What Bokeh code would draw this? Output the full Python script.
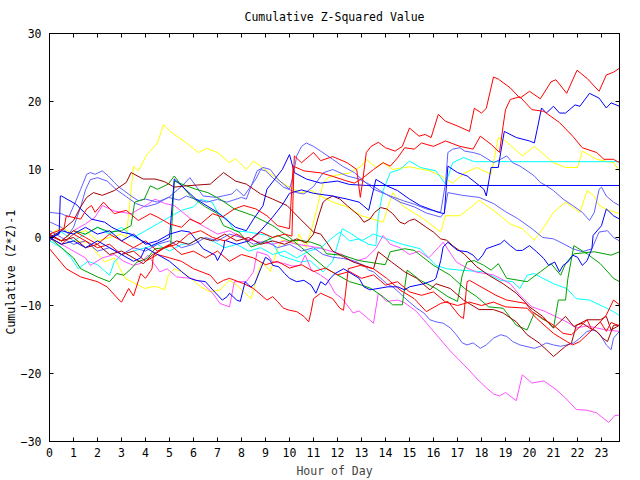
from bokeh.plotting import figure
from bokeh.models import Range1d, LinearAxis, FixedTicker, Title, CustomJSTickFormatter
from bokeh.embed import file_html
from bokeh.resources import INLINE

title_text = "Cumulative Z-Squared Value"
x_label = "Hour of Day"
y_label = "Cumulative (Z*Z)-1"
x_ticks = list(range(24))
y_ticks = [-30, -20, -10, 0, 10, 20, 30]

RED = "#ff0000"; DRED = "#a00000"; GREEN = "#00a000"; BLUE = "#0000ff"
SLATE = "#6060ff"; CYAN = "#00ffff"; MAG = "#ff50ff"; YEL = "#ffff00"

red_1 = [(0,-1.65),(0.7,-4.6),(1.3,-5.8),(2.0,-6.5),(2.4,-7.25),(2.9,-9.2),(3.0,-9.5),(3.3,-7.5),(3.5,-8.6),(3.8,-5.3),(4.0,-6.0),(4.27,-4.6),(4.33,-2.6),(4.8,-1.5),(5.3,-1.0),(5.8,0.5),(6.3,1.0),(6.8,0.0),(7.3,-0.5),(7.8,0.5),(8.3,-0.5),(8.8,0.8),(9.3,0.0),(9.8,0.5),(10.1,0.2),(10.2,12.0),(10.5,11.0),(11.0,12.5),(11.3,11.3),(11.8,11.9),(12.4,11.0),(12.8,10.0),(12.95,5.9),(13.06,8.6),(13.2,12.5),(13.4,13.4),(13.7,14.0),(14.0,13.2),(14.4,12.7),(14.7,13.4),(15.0,16.1),(15.4,14.9),(15.65,15.15),(15.9,14.7),(16.2,18.1),(16.5,17.1),(17.0,16.4),(17.5,15.6),(17.7,19.0),(18.0,18.3),(18.2,19.0),(18.5,23.6),(18.7,23.3),(19.2,22.0),(19.6,20.5),(20.0,21.5),(20.45,20.4),(20.9,22.9),(21.1,23.2),(21.55,21.2),(21.98,24.6),(22.4,23.4),(22.9,21.5),(23.2,23.9),(23.5,24.3),(23.75,24.9)]
red_2 = [(0,0.5),(0.6,1.3),(0.7,3.2),(1.3,2.7),(1.55,4.2),(1.75,4.7),(1.9,3.7),(2.25,5.2),(2.7,3.5),(3.2,4.0),(3.7,2.5),(4.2,3.5),(4.5,3.0),(5.0,2.0),(5.5,1.5),(5.85,2.7),(6.3,2.0),(6.8,3.5),(7.2,3.0),(7.7,4.2),(8.1,4.7),(8.6,4.2),(9.06,3.2),(9.5,1.75),(10.0,1.3),(10.15,10.5),(10.6,9.8),(11.3,9.5),(11.8,9.0),(12.3,8.4),(12.7,8.0),(13.0,8.6),(13.5,10.0),(13.9,11.0),(14.2,10.5),(14.5,11.7),(14.8,13.2),(15.2,13.0),(15.5,13.9),(16.0,13.4),(16.5,14.2),(17.1,13.4),(17.65,13.0),(17.95,14.9),(18.4,13.7),(18.75,12.5),(18.9,16.4),(19.0,18.8),(19.2,20.3),(19.6,20.7),(20.1,18.8),(20.6,18.55),(21.25,16.9),(21.8,14.9),(22.2,13.2),(22.8,12.5),(23.1,11.5),(23.5,11.5),(23.75,11.0)]
red_3 = [(0,0.0),(0.5,-1.0),(1.0,0.5),(1.5,-0.5),(2.0,-1.5),(2.5,-1.0),(3.0,-2.5),(3.5,-2.0),(4.0,-3.5),(4.5,-2.5),(5.0,-3.0),(5.5,-3.5),(6.0,-4.6),(6.7,-5.55),(7.0,-6.8),(7.25,-6.3),(7.5,-6.0),(8.1,-6.8),(8.5,-7.5),(9.06,-9.2),(9.3,-8.7),(9.5,-9.4),(9.75,-10.4),(10.0,-10.7),(10.3,-10.9),(10.6,-11.6),(10.8,-12.4),(10.9,-10.9),(11.0,-9.0),(11.3,-8.2),(11.8,-9.0),(12.1,-10.4),(12.25,-10.7),(12.45,-4.6),(12.95,-4.1),(13.5,-4.6),(14.05,-6.0),(14.6,-7.7),(15.2,-9.0),(15.7,-10.9),(16.3,-9.7),(16.6,-9.4),(17.1,-11.6),(17.25,-11.9),(17.4,-6.5),(17.5,-6.3),(18.1,-7.5),(18.6,-8.5),(19.05,-9.2),(19.85,-9.7),(20.1,-10.9),(20.55,-11.9),(21.0,-12.9),(21.4,-14.1),(21.75,-14.3),(22.05,-13.3),(22.4,-12.1),(22.6,-13.6),(22.95,-12.4),(23.2,-11.4),(23.5,-9.2),(23.75,-9.9)]
red_4 = [(0,0.3),(0.5,-0.5),(1.0,1.0),(1.5,0.0),(2.0,-1.0),(2.5,0.5),(3.0,-0.5),(3.5,-1.5),(4.0,-0.5),(4.5,-2.0),(5.0,-1.0),(5.5,-2.5),(6.0,-2.0),(6.5,-3.0),(7.0,-2.0),(7.5,-3.5),(8.0,-2.5),(8.5,-3.0),(9.0,-4.0),(9.5,-3.5),(10.0,-4.5),(10.5,-4.0),(11.0,-5.0),(11.5,-4.5),(12.0,-5.5),(12.5,-5.0),(13.0,-6.0),(13.5,-5.5),(14.0,-7.0),(14.5,-6.5),(15.0,-8.0),(15.5,-8.5),(16.0,-8.0),(16.5,-9.5),(17.0,-10.0),(17.5,-9.5),(18.0,-10.0),(18.5,-9.5),(19.0,-10.2),(19.9,-10.4),(20.3,-11.9),(21.0,-14.1),(21.55,-15.3),(21.8,-15.8),(22.1,-15.3),(22.4,-14.3),(22.95,-12.4),(23.2,-13.8),(23.4,-12.5),(23.75,-13.0)]
dred_1 = [(0,0.0),(0.5,1.0),(1.0,2.5),(1.3,4.5),(1.55,5.9),(1.83,6.6),(2.2,6.2),(2.7,6.9),(3.2,8.1),(3.4,9.55),(3.9,8.6),(4.4,8.6),(4.8,8.2),(5.2,7.4),(5.7,7.6),(6.7,7.85),(7.25,9.55),(7.75,8.3),(8.2,7.85),(8.8,6.4),(9.3,5.65),(9.9,4.7),(10.45,2.7),(11.0,0.8),(11.3,0.5),(11.55,-0.7),(11.8,-2.0),(12.65,-3.6),(13.5,-4.6),(13.7,-2.1),(14.25,-3.6),(14.8,-5.05),(15.3,-6.0),(15.85,-7.7),(16.1,-6.8),(16.7,-7.5),(17.25,-9.2),(17.9,-10.6),(18.5,-10.6),(18.9,-11.1),(19.45,-12.4),(19.9,-14.3),(20.4,-15.5),(21.0,-17.5),(21.5,-16.0),(21.75,-15.5),(21.95,-12.9),(22.2,-12.6),(22.5,-13.3),(22.8,-13.8),(23.05,-14.8),(23.25,-15.3),(23.5,-12.9),(23.75,-12.9)]
dred_2 = [(0,0.5),(0.5,-0.5),(1.0,0.0),(1.5,-1.5),(2.0,-1.0),(2.5,-2.5),(3.0,-2.0),(3.5,-3.0),(3.9,-3.85),(4.3,-2.5),(4.8,-1.5),(5.3,-0.5),(5.8,-1.0),(6.3,0.0),(6.8,-0.5),(7.3,0.5),(7.8,-0.5),(8.3,0.0),(8.8,-1.0),(9.3,-0.5),(9.8,-1.0),(10.3,-0.2),(10.7,-0.8),(11.0,0.5),(11.2,3.0),(11.4,5.2),(11.55,5.65),(11.8,6.1),(12.1,5.65),(12.4,4.7),(12.65,3.95),(12.9,3.2),(13.1,2.25),(13.35,2.7),(13.55,3.7),(13.8,4.4),(14.05,4.2),(14.3,3.5),(14.6,2.25),(14.8,2.0),(15.0,2.5),(15.2,2.7),(15.4,2.25),(15.7,1.5),(16.0,0.8),(16.3,-0.2),(16.55,-0.4),(16.8,-1.2),(17.3,-2.5),(17.8,-4.3),(18.3,-5.55),(18.9,-6.8),(19.45,-8.2),(20.0,-10.2),(20.55,-11.6),(21.0,-13.3),(21.5,-11.6),(21.85,-13.1),(22.4,-12.1),(22.95,-12.1),(23.2,-11.6),(23.4,-13.6),(23.75,-12.9)]
blue_1 = [(0,-0.5),(0.5,1.0),(1.0,0.5),(1.5,1.5),(2.0,0.5),(2.5,1.0),(3.0,-0.5),(3.5,0.5),(4.0,-1.0),(4.5,-0.5),(5.0,0.5),(5.5,1.0),(5.85,0.8),(6.4,-1.65),(6.9,-2.6),(7.0,-3.4),(7.25,-1.65),(7.3,-0.4),(7.8,-1.0),(8.3,-0.5),(8.8,1.0),(9.3,3.0),(9.7,4.8),(10.0,6.5),(10.5,7.0),(11.0,6.5),(11.8,6.1),(12.4,5.65),(12.9,5.2),(13.3,4.0),(13.6,8.55),(14.05,7.6),(14.5,6.9),(15.0,5.65),(15.45,4.7),(16.2,3.7),(16.45,3.5),(16.6,10.5),(17.0,9.55),(17.4,9.05),(18.1,7.1),(18.2,6.1),(18.4,10.3),(18.7,10.3),(18.8,12.5),(18.95,15.6),(19.45,14.7),(20.0,14.2),(20.2,13.9),(20.35,16.4),(20.5,19.05),(20.7,18.3),(21.0,19.3),(21.25,18.3),(21.5,18.3),(21.9,19.5),(22.1,19.3),(22.5,21.2),(22.9,20.5),(23.2,19.05),(23.4,19.8),(23.75,19.3)]
blue_2 = [(0,0.0),(0.4,0.5),(0.45,6.1),(0.5,6.1),(1.1,4.9),(1.3,4.2),(1.75,2.7),(2.3,2.25),(2.6,1.5),(3.0,0.8),(3.4,0.5),(3.7,-0.2),(4.25,-1.2),(4.7,-0.5),(5.0,0.0),(5.2,8.6),(6.1,5.65),(7.0,3.7),(7.75,1.5),(8.2,1.0),(8.5,2.7),(8.9,4.7),(9.06,7.1),(9.7,10.0),(10.0,12.2),(10.2,9.55),(10.7,8.6),(11.3,8.0),(12.0,8.3),(12.5,7.8),(13.2,7.65),(23.75,7.65)]
blue_3 = [(0,0.0),(0.5,-1.0),(1.0,-0.5),(1.5,-1.5),(2.0,-0.5),(2.5,-1.5),(3.0,-2.5),(3.5,-3.5),(3.8,-3.0),(4.0,-1.5),(4.5,-2.5),(5.0,-3.5),(5.5,-5.0),(5.85,-6.0),(6.1,-6.3),(6.5,-6.5),(6.8,-7.7),(7.2,-9.2),(7.4,-8.7),(7.5,-8.2),(7.8,-9.2),(7.95,-9.4),(8.15,-6.5),(8.3,-7.0),(8.4,-7.25),(8.55,-6.8),(8.8,-4.6),(9.0,-2.9),(9.2,-3.4),(9.3,-4.1),(9.55,-4.3),(9.8,-5.3),(10.0,-6.0),(10.3,-6.5),(10.6,-6.3),(10.9,-7.0),(11.1,-8.2),(11.3,-6.5),(11.5,-7.0),(11.7,-6.0),(11.9,-5.3),(12.25,-4.6),(12.9,-6.0),(13.1,-7.25),(13.35,-7.7),(14.1,-7.25),(14.5,-7.25),(14.8,-7.7),(15.0,-7.25),(15.6,-6.8),(16.0,-6.3),(16.1,-6.0),(16.3,-3.4),(16.4,-1.4),(16.6,-0.7),(17.0,-1.9),(17.4,-2.1),(17.65,-2.6),(17.85,-3.4),(18.05,-2.6),(18.2,-1.65),(18.8,-0.9),(18.95,-0.4),(19.2,-1.2),(19.45,-1.9),(19.7,-1.9),(20.0,-1.2),(20.3,-2.1),(20.6,-3.1),(20.8,-4.1),(21.05,-3.6),(21.25,-5.05),(21.4,-4.1),(21.6,-3.6),(21.8,-2.6),(22.0,-2.9),(22.2,-4.1),(22.4,-3.4),(22.6,-1.65),(22.65,0.3),(23.0,1.75),(23.2,4.2),(23.5,3.2),(23.75,2.7)]
slate_1 = [(0,3.7),(0.5,3.5),(0.8,3.0),(1.1,5.4),(1.3,7.1),(1.55,9.3),(1.7,9.55),(1.9,9.3),(2.2,9.8),(2.45,9.05),(2.7,8.1),(2.9,7.4),(3.1,6.9),(3.4,6.1),(3.7,5.4),(4.0,5.65),(4.5,5.2),(4.95,5.9),(5.4,5.5),(5.7,6.1),(6.1,5.6),(6.55,5.2),(7.0,5.6),(7.4,5.2),(8.0,5.9),(8.2,5.65),(8.65,9.8),(8.9,10.3),(9.2,10.0),(9.5,8.6),(9.75,7.85),(10.0,7.1),(10.15,9.05),(10.3,12.0),(10.5,13.4),(10.7,13.9),(11.0,13.4),(11.3,12.7),(11.8,11.5),(12.2,10.5),(12.7,9.55),(13.1,8.3),(13.5,7.1),(14.2,6.1),(14.75,5.4),(15.2,4.9),(15.7,4.2),(16.3,3.7),(16.5,8.0),(16.6,12.5),(16.8,13.0),(17.1,13.2),(17.3,12.7),(17.65,12.5),(17.95,12.2),(18.5,11.0),(18.8,11.5),(19.05,12.0),(19.3,11.0),(19.6,10.5),(19.9,9.8),(20.2,9.05),(20.45,8.1),(20.7,7.6),(21.0,6.9),(21.4,5.65),(21.8,4.7),(22.2,3.7),(22.5,2.5),(22.7,3.7),(22.9,7.1),(23.0,7.4),(23.2,6.1),(23.5,5.2),(23.75,4.7)]
slate_2 = [(0,2.3),(0.5,1.5),(0.8,0.5),(1.0,1.5),(1.3,4.5),(1.5,7.0),(1.7,8.5),(2.0,8.8),(2.4,8.3),(2.8,7.0),(3.2,6.0),(3.6,5.0),(4.0,4.5),(4.5,5.0),(5.0,6.0),(5.5,7.5),(5.85,8.8),(6.4,6.1),(6.95,5.9),(7.6,6.4),(7.8,7.1),(8.1,6.1),(8.6,8.6),(8.8,10.0),(9.0,9.8),(9.3,8.8),(9.75,7.4),(10.3,6.6),(10.6,6.4),(11.0,7.5),(11.4,9.5),(11.8,10.0),(12.4,9.05),(12.9,8.6),(13.5,7.5),(14.1,6.2),(14.6,5.2),(15.2,4.5),(15.7,3.6),(16.3,3.0),(16.45,3.7),(16.6,6.6),(17.2,6.2),(17.9,5.9),(18.5,5.0),(19.0,3.8),(19.5,2.8),(20.1,1.3),(20.55,0.0),(21.0,-0.2),(21.4,-0.9),(21.8,-1.65),(22.2,-2.1),(22.6,-1.65),(22.9,0.8),(23.25,1.0),(23.5,0.0),(23.75,-0.5)]
slate_3 = [(0,1.0),(0.5,0.0),(1.0,-1.0),(1.5,-0.5),(2.0,-2.0),(2.5,-1.5),(3.0,-2.5),(3.5,-1.5),(4.0,-2.0),(4.5,-1.0),(5.0,-0.5),(5.5,-1.5),(6.0,-1.0),(6.5,0.0),(7.0,-0.5),(7.5,0.5),(8.0,0.0),(8.5,-1.0),(9.0,-0.5),(9.5,-1.5),(10.0,-1.0),(10.5,-2.0),(11.0,-1.5),(11.4,-2.5),(11.8,-2.9),(12.25,-3.1),(12.65,-3.4),(13.1,-4.1),(13.3,-4.8),(13.5,-5.05),(13.8,-6.0),(14.05,-6.8),(14.3,-7.25),(14.6,-8.2),(14.9,-9.2),(15.3,-10.4),(15.6,-11.1),(15.85,-12.1),(16.1,-12.4),(16.4,-12.6),(16.7,-13.3),(16.95,-14.3),(17.2,-15.5),(17.4,-15.8),(17.65,-15.5),(17.95,-16.3),(18.2,-15.8),(18.5,-14.8),(18.8,-14.3),(19.05,-14.55),(19.3,-15.3),(19.6,-15.8),(20.2,-16.3),(20.45,-16.0),(20.7,-15.5),(21.0,-15.8),(21.3,-16.0),(21.55,-15.8),(21.85,-15.5),(22.1,-14.8),(22.4,-13.8),(22.7,-13.6),(22.95,-14.3),(23.2,-15.8),(23.4,-16.5),(23.5,-14.8),(23.75,-13.8)]
cyan_1 = [(0,-0.5),(0.5,-1.5),(0.9,-3.0),(1.2,-4.6),(1.6,-3.5),(2.0,-4.0),(2.5,-5.55),(2.7,-3.6),(3.0,-2.5),(3.5,-2.0),(4.0,-1.5),(4.5,-1.0),(5.0,-2.0),(5.5,-1.0),(5.85,-0.9),(6.3,0.0),(6.8,-0.5),(7.3,-1.5),(7.8,-1.0),(8.3,-2.0),(8.8,-1.5),(9.3,-2.5),(9.8,-2.0),(10.3,-3.0),(10.8,-2.0),(11.3,-1.5),(11.8,0.0),(12.1,0.8),(12.5,-0.5),(12.9,-0.2),(13.3,-1.0),(13.6,-1.2),(13.7,3.2),(13.9,6.9),(14.2,9.55),(14.6,10.0),(15.0,11.25),(15.45,10.3),(16.1,9.8),(16.5,7.85),(16.8,11.0),(17.25,11.75),(17.7,11.15),(23.75,11.15)]
cyan_2 = [(0,0.0),(0.5,0.8),(1.0,-0.5),(1.5,0.5),(2.0,1.5),(2.5,0.5),(3.0,1.5),(3.5,0.0),(4.0,1.0),(4.5,2.0),(5.0,3.0),(5.5,4.0),(6.0,4.5),(6.3,5.6),(6.77,5.2),(7.0,3.7),(7.4,2.7),(7.7,1.0),(8.3,0.8),(9.1,0.3),(9.6,-2.6),(10.0,-3.1),(10.45,-3.6),(10.85,-3.4),(11.4,-5.05),(11.8,-3.5),(12.2,1.3),(12.6,0.5),(13.0,-0.5),(13.5,0.5),(14.05,-0.2),(14.7,-1.0),(15.45,-1.65),(16.1,-4.1),(16.55,-4.6),(17.1,-4.8),(18.1,-5.05),(18.8,-6.3),(19.3,-6.5),(19.6,-7.5),(19.9,-5.55),(20.2,-5.3),(20.45,-5.8),(21.0,-6.8),(21.55,-7.5),(21.95,-9.0),(22.5,-9.2),(23.1,-10.2),(23.5,-10.9),(23.75,-11.5)]
green_1 = [(0,0.3),(0.5,-0.5),(1.0,1.0),(1.5,0.5),(2.0,1.5),(2.5,0.8),(3.0,1.0),(3.4,1.75),(3.55,5.2),(3.95,5.65),(4.2,7.6),(4.5,7.1),(4.95,7.85),(5.2,9.05),(5.4,8.1),(5.9,6.0),(6.5,4.5),(7.0,3.5),(7.25,1.75),(7.9,0.8),(8.4,-1.4),(8.8,-0.9),(9.06,-0.4),(9.5,0.3),(10.0,-0.5),(10.45,-0.4),(10.9,-0.7),(11.3,-1.2),(11.55,-2.4),(12.2,-2.6),(12.9,-3.4),(13.99,-4.0),(14.2,-2.1),(14.8,-1.65),(15.2,-1.9),(16.0,-4.1),(16.7,-5.55),(17.3,-7.5),(17.8,-8.7),(18.3,-10.2),(18.9,-10.4),(19.45,-12.9),(19.9,-13.6),(20.2,-11.1),(20.5,-11.9),(20.75,-12.4),(21.0,-13.3),(21.2,-9.2),(21.5,-9.2),(21.6,-6.0),(21.85,-1.2),(22.4,-2.4),(22.95,-3.85),(23.5,-6.0),(23.75,-6.5)]
green_2 = [(0,0.0),(0.5,-1.5),(1.0,-3.0),(1.3,-4.6),(2.0,-5.8),(2.5,-6.5),(2.8,-5.3),(3.1,-5.55),(3.4,-4.6),(3.65,-3.6),(4.06,-3.1),(4.4,-1.65),(4.8,-1.5),(5.05,-1.2),(5.2,8.3),(5.7,7.6),(6.1,7.1),(6.6,6.6),(7.1,5.65),(7.7,4.2),(8.5,3.2),(9.3,1.75),(10.0,0.0),(10.5,-1.5),(11.0,-3.0),(11.5,-4.5),(12.0,-5.5),(12.5,-6.5),(13.0,-7.0),(13.4,-7.5),(13.9,-8.7),(14.3,-9.9),(14.7,-9.9),(14.9,-4.8),(15.45,-6.3),(16.1,-7.5),(16.6,-8.7),(17.0,-9.4),(17.2,-5.5),(17.4,-3.6),(17.7,-3.4),(18.1,-4.1),(18.4,-4.8),(18.7,-3.85),(19.05,-6.0),(19.9,-6.5),(20.45,-5.05),(20.9,-3.85),(21.3,-5.55),(21.5,-3.85),(21.85,-2.4),(22.7,-2.1),(23.4,-2.6),(23.75,-2.1)]
mag_1 = [(0,0.0),(0.5,-1.0),(1.0,-2.0),(1.5,-3.0),(1.7,-4.1),(2.2,-3.0),(2.7,-2.5),(3.1,-3.5),(3.5,-4.1),(3.8,-3.8),(4.1,-2.6),(4.6,-5.05),(4.9,-4.6),(5.3,-5.8),(5.9,-6.0),(6.3,-6.5),(6.8,-8.2),(7.1,-9.7),(7.5,-10.2),(7.7,-6.5),(8.2,-6.5),(8.5,-5.05),(8.65,-2.1),(9.1,-2.6),(9.3,-3.6),(9.75,-3.8),(10.1,-4.2),(10.45,-4.1),(10.65,-2.6),(10.9,-4.7),(11.3,-5.55),(11.6,-6.3),(11.9,-8.2),(12.2,-9.0),(12.65,-11.1),(12.9,-10.8),(13.5,-12.6),(13.7,-8.2),(14.05,-9.4),(14.5,-9.2),(14.8,-9.6),(15.3,-10.9),(16.0,-13.8),(16.7,-16.7),(17.4,-19.2),(17.9,-21.1),(18.2,-22.1),(18.5,-23.0),(18.75,-23.3),(19.0,-22.8),(19.45,-24.0),(19.7,-20.2),(20.1,-21.4),(20.6,-21.1),(21.1,-22.35),(21.5,-23.6),(21.95,-25.3),(22.4,-25.4),(22.8,-25.8),(23.3,-27.2),(23.55,-26.2),(23.75,-26.1)]
mag_2 = [(0,0.5),(0.5,-0.5),(1.0,1.0),(1.5,2.0),(1.9,3.0),(2.2,4.7),(2.7,3.9),(3.4,3.5),(4.1,4.9),(4.4,5.65),(4.8,5.0),(5.2,4.7),(5.9,2.7),(6.5,1.5),(7.0,0.5),(7.5,1.0),(8.0,0.0),(8.5,-0.5),(8.8,-0.7),(9.3,-1.0),(9.8,-0.5),(10.3,-1.0),(10.7,-1.2),(11.2,-1.5),(11.8,-2.1),(12.2,-2.5),(12.65,-3.6),(13.2,-3.0),(13.6,-1.6),(13.9,0.3),(14.2,-1.0),(14.6,-1.5),(15.0,-2.5),(15.4,-2.0),(15.8,-3.0),(16.2,-1.5),(16.4,-0.7),(16.95,-3.6),(17.4,-4.5),(17.8,-5.1),(18.5,-5.5),(19.2,-6.8),(19.6,-8.5),(20.1,-10.2),(20.6,-10.8),(21.25,-11.9),(21.6,-12.5),(21.95,-13.3),(22.4,-13.0),(22.8,-13.3),(23.2,-13.6),(23.75,-13.8)]
yel_1 = [(0,0.5),(0.5,1.5),(1.0,0.5),(1.5,1.0),(2.0,-0.5),(2.5,0.0),(3.0,0.5),(3.2,0.0),(3.5,10.5),(3.7,9.8),(4.06,12.2),(4.5,13.9),(4.75,16.6),(5.03,15.6),(5.7,13.9),(6.2,12.5),(6.55,13.1),(7.0,12.5),(7.5,11.0),(7.75,11.6),(8.2,10.0),(8.5,11.25),(9.06,9.8),(9.6,8.3),(10.0,7.4),(10.45,6.6),(10.9,6.9),(11.3,6.1),(11.8,5.2),(12.4,4.5),(13.0,3.2),(13.9,2.25),(14.3,6.6),(14.7,4.7),(15.6,2.7),(16.3,0.8),(16.5,3.2),(17.1,3.2),(17.65,4.7),(17.9,5.5),(18.6,3.7),(19.2,2.0),(19.7,1.3),(20.2,-0.4),(20.5,1.0),(21.0,3.7),(21.5,5.2),(22.1,3.7),(22.4,6.9),(22.7,6.1),(22.9,4.7),(23.3,4.0),(23.75,3.5)]
yel_2 = [(0,0.0),(0.5,-1.0),(1.0,-0.5),(1.6,-0.7),(2.3,-3.6),(2.7,-3.0),(3.15,-6.0),(3.7,-7.0),(3.97,-7.5),(4.25,-7.25),(4.5,-7.25),(4.8,-7.7),(4.95,-5.55),(5.2,-4.6),(5.5,-5.05),(5.9,-6.0),(6.3,-7.25),(6.7,-8.0),(7.1,-7.7),(7.5,-6.3),(7.8,-7.0),(8.4,-9.0),(8.7,-5.05),(8.85,-3.6),(9.2,-5.0),(9.5,-1.65),(9.7,-0.4),(10.3,-0.9),(10.4,0.5),(10.7,-1.5),(11.0,2.3),(11.4,7.9),(11.6,8.8),(12.0,9.2),(12.5,9.5),(13.0,10.5),(13.2,11.5),(13.6,10.3),(13.9,11.0),(14.3,10.0),(15.0,10.4),(15.85,9.8),(16.3,9.1),(16.8,8.0),(17.3,9.5),(17.8,10.3),(18.4,9.3),(18.7,14.7),(19.0,14.2),(19.7,12.0),(20.2,13.4),(21.0,11.0),(21.5,10.3),(22.0,10.3),(22.2,12.7),(22.8,11.5),(23.5,11.0),(23.75,9.8)]

series = [
    (yel_1, YEL), (yel_2, YEL), (cyan_2, CYAN), (cyan_1, CYAN),
    (mag_2, MAG), (mag_1, MAG), (slate_3, SLATE), (slate_2, SLATE), (slate_1, SLATE),
    (green_2, GREEN), (green_1, GREEN), (dred_2, DRED), (dred_1, DRED),
    (red_4, RED), (red_3, RED), (blue_3, BLUE), (blue_2, BLUE), (blue_1, BLUE),
    (red_2, RED), (red_1, RED),
]

FONT = "DejaVu Sans Mono"
FS = "11.5px"

p = figure(width=640, height=480, output_backend="svg", toolbar_location=None,
           x_range=Range1d(0, 23.75), y_range=Range1d(-30, 30),
           min_border_left=49, min_border_right=21, min_border_top=33, min_border_bottom=36,
           background_fill_color="white", border_fill_color="white")
p.outline_line_color = "black"
p.outline_line_width = 1
p.xgrid.visible = False
p.ygrid.visible = False

for data, color in series:
    xs = [d[0] for d in data]
    ys = [d[1] for d in data]
    p.line(xs, ys, line_color=color, line_width=1)

p.title.text = title_text
p.title.align = "center"
p.title.vertical_align = "top"
p.title.standoff = 16
p.title.text_font = FONT
p.title.text_font_size = FS
p.title.text_font_style = "normal"
p.title.text_color = "black"

def style_axis(ax, ticks, show_labels):
    ax.ticker = FixedTicker(ticks=ticks)
    ax.minor_tick_line_color = None
    ax.major_tick_in = 4
    ax.major_tick_out = 0
    ax.axis_line_color = "black"
    ax.major_tick_line_color = "black"
    ax.major_label_text_font = FONT
    ax.major_label_text_font_size = FS
    if show_labels:
        ax.major_label_text_color = "black"
    else:
        ax.formatter = CustomJSTickFormatter(code="return ''")
        ax.major_label_text_color = None
        ax.major_label_standoff = 0

xa = p.xaxis[0]
style_axis(xa, x_ticks, True)
xa.major_label_standoff = 6
xa.axis_label = x_label
xa.axis_label_text_font = FONT
xa.axis_label_text_font_size = FS
xa.axis_label_text_font_style = "normal"
xa.axis_label_standoff = 4

ya = p.yaxis[0]
style_axis(ya, y_ticks, True)
ya.major_label_standoff = 8

top_ax = LinearAxis()
style_axis(top_ax, x_ticks, False)
p.add_layout(top_ax, "above")
right_ax = LinearAxis()
style_axis(right_ax, y_ticks, False)
p.add_layout(right_ax, "right")

ytitle = Title(text=y_label, align="left", offset=107, vertical_align="bottom", standoff=0,
               text_font=FONT, text_font_size=FS, text_font_style="normal", text_color="black")
p.add_layout(ytitle, "left")

open("out.html", "w").write(file_html(p, INLINE))
